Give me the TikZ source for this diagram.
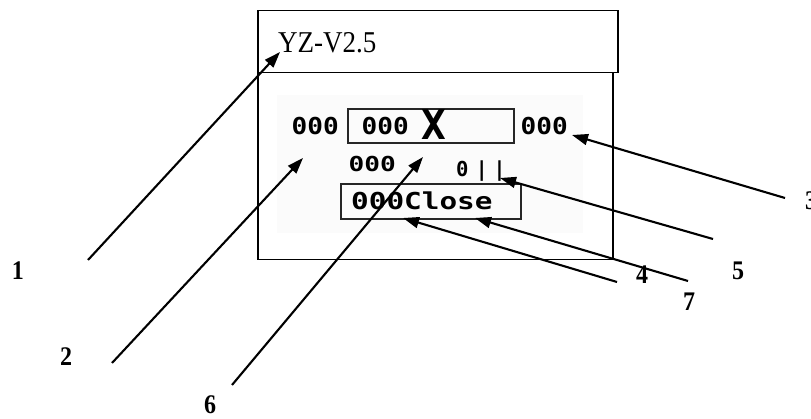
\documentclass[tikz,border=0pt]{standalone}
\usepackage{fontspec}
\setmainfont{Liberation Serif}
\newfontfamily\pixfont{DejaVu Sans Mono}
\usetikzlibrary{arrows.meta}
\tikzset{
  callout/.style={line width=2.1pt, -{Triangle[length=16pt,width=11pt]}},
  frame/.style={draw=black, line width=1.5pt, inner sep=0pt, anchor=north west},
  lcdbox/.style={draw=black!85, line width=1.6pt, inner sep=0pt, anchor=north west},
  numlabel/.style={font=\fontsize{24}{24}\selectfont\bfseries, inner sep=0pt},
  pix/.style={inner sep=0pt, anchor=base west},
}
\newcommand\pxt[3]{\scalebox{#1}[1]{\fontsize{#2}{#2}\selectfont\pixfont\bfseries #3}}
\newcommand\tallnum[1]{\scalebox{1}[1.12]{#1}}
\begin{document}
\begin{tikzpicture}[x=1pt,y=-1pt]
\useasboundingbox (0,0) rectangle (811,419);
\fill[white] (0,0) rectangle (811,419);
\fill[gray!3] (277,95) rectangle (583,233);
% frames
\node[frame, minimum width=360pt, minimum height=62pt] (titlebar) at (257,10) {};
\node[frame, minimum width=355pt, minimum height=187pt] (screen) at (257,72) {};
\node[inner sep=0pt, anchor=base west, font=\fontsize{27}{27}\selectfont] (title) at (278,53) {\scalebox{1}[1.12]{YZ-V2.5}};
% lcd content
\node[lcdbox, minimum width=166pt, minimum height=34pt] (valbox) at (347,108) {};
\node[lcdbox, minimum width=180pt, minimum height=35pt] (closebox) at (340,183) {};
\node[pix] (lval) at (291.5,135) {\pxt{1.12}{23.3}{000}};
\node[pix] (ival) at (361.5,135) {\pxt{1.12}{23.3}{000}};
\node[pix] (xmark) at (421,140) {\pxt{1}{41}{X}};
\node[pix] (rval) at (520.5,135) {\pxt{1.12}{23.3}{000}};
\node[pix] (row2) at (348.5,172) {\pxt{1.27}{20.6}{000}};
\node[pix] (bars) at (456,177) {\fontsize{20.6}{20.6}\selectfont\pixfont\bfseries 0\kern7pt|\kern5.5pt|};
\node[pix] (closetxt) at (351,210) {\pxt{1.26}{23.3}{000Close}};
% arrow ends
\coordinate (t1) at (280,52);  \coordinate (s1) at (88,260);
\coordinate (t2) at (303,158); \coordinate (s2) at (112,363);
\coordinate (t6) at (423,157); \coordinate (s6) at (232,385);
\coordinate (t3) at (572,135); \coordinate (s3) at (785,198);
\coordinate (t5) at (500,178); \coordinate (s5) at (713,239);
\coordinate (t4) at (403,218); \coordinate (s4) at (617,282);
\coordinate (t7) at (475,218); \coordinate (s7) at (688,281);
\foreach \k in {1,2,6,3,5,4,7} { \draw[callout] (s\k) -- (t\k); }
% labels
\node[numlabel] (n1) at (18,271) {\tallnum{1}};
\node[numlabel] (n2) at (66,357) {\tallnum{2}};
\node[numlabel] (n6) at (210,405) {\tallnum{6}};
\node[numlabel] (n3) at (811,201) {\tallnum{3}};
\node[numlabel] (n4) at (642,275) {\tallnum{4}};
\node[numlabel] (n5) at (738,271) {\tallnum{5}};
\node[numlabel] (n7) at (689,302) {\tallnum{7}};
\end{tikzpicture}
\end{document}
